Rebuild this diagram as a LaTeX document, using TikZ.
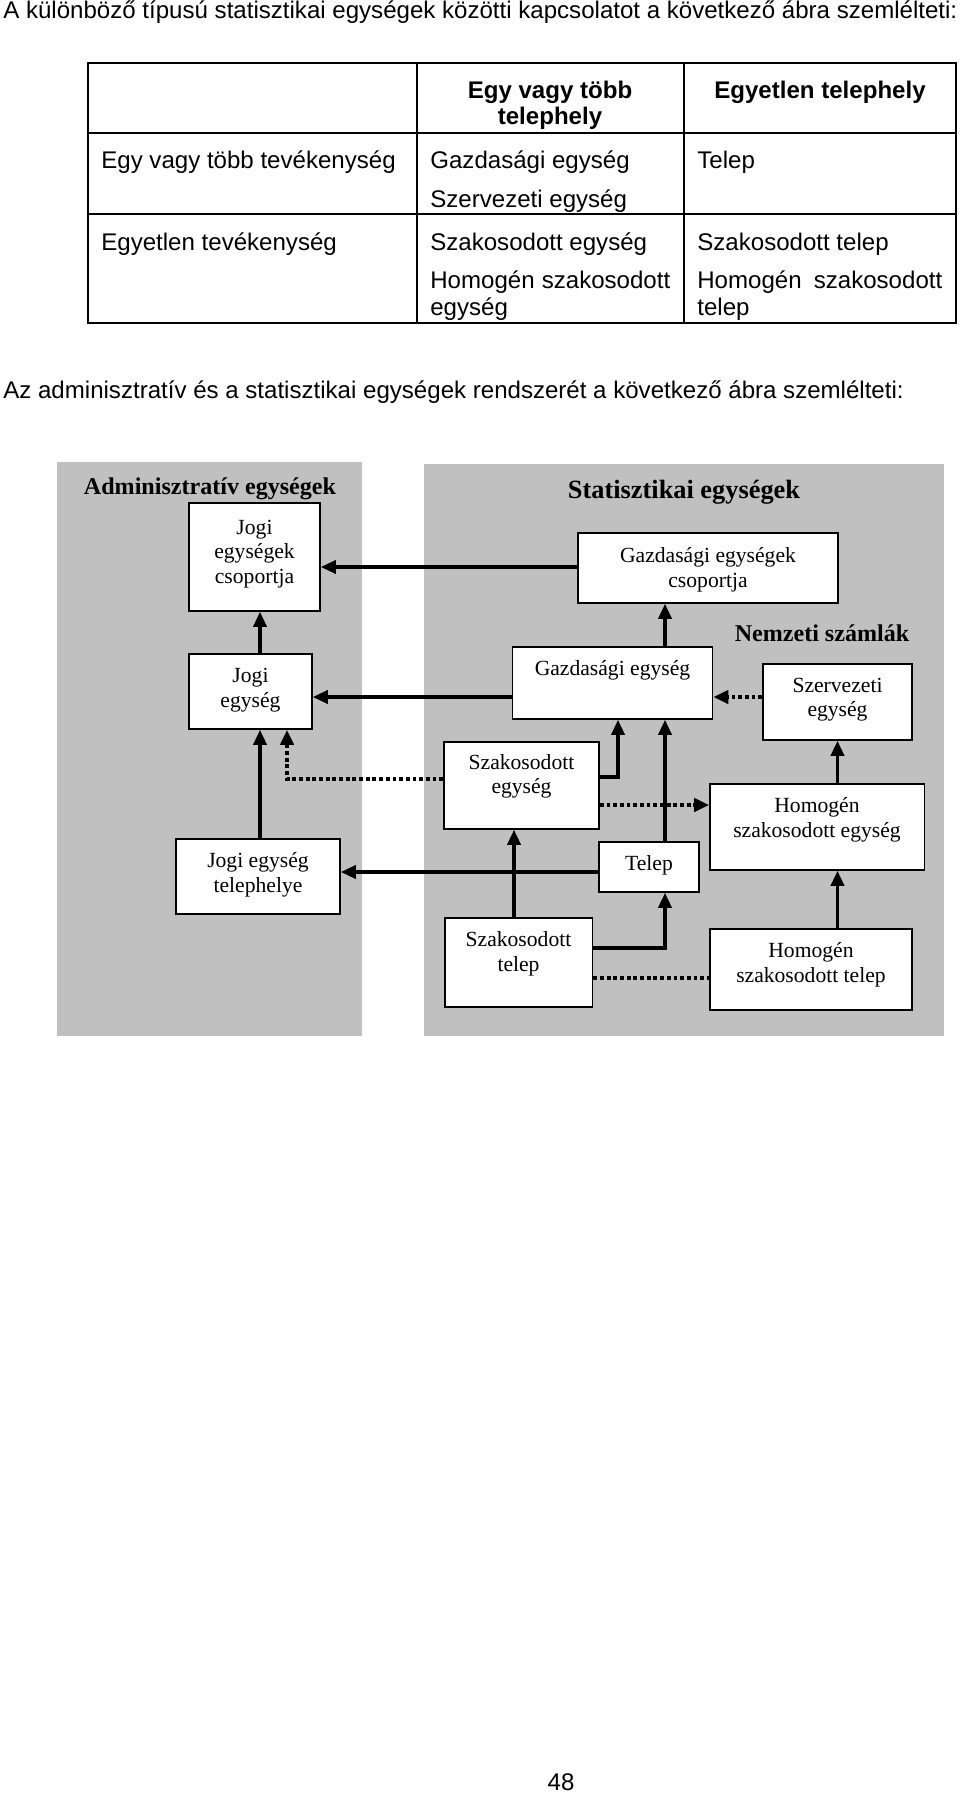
\documentclass[tikz,border=0pt]{standalone}
\usepackage{fontspec}
\setmainfont{Liberation Serif}
\setsansfont{Liberation Sans}
\usetikzlibrary{arrows.meta,fit}
\definecolor{panelgray}{RGB}{192,192,192}

\begin{document}
\begin{tikzpicture}
	[x=0.02cm,y=-0.02cm,
	 sans/.style={font=\sffamily\fontsize{13.7}{15.5}\selectfont,inner sep=0pt,anchor=base west},
	 colhead/.style={font=\sffamily\bfseries\fontsize{13.7}{15}\selectfont,inner sep=0pt,anchor=base},
	 panelhead/.style={font=\bfseries\fontsize{13.7}{16}\selectfont,inner sep=0pt},
	 frame/.style={draw,line width=1pt,fill=white,inner sep=0pt},
	 txt/.style={font=\fontsize{12.3}{14}\selectfont,align=center,inner sep=0pt},
	 arr/.style={line width=1.8pt,-{Triangle[length=8.5pt,width=7.5pt]}},
	 dotarr/.style={line width=2pt,dash pattern=on 2.2pt off 1.6pt,-{Triangle[length=8.5pt,width=7.5pt]}},
	 dotline/.style={line width=2pt,dash pattern=on 2.2pt off 1.6pt}]
\useasboundingbox (0,0) rectangle (960,1795);
% the table
\node[sans] (intro) at (3,18) {A különböző típusú statisztikai egységek közötti kapcsolatot a következő ábra szemlélteti:};
\draw[line width=1.1pt] (88,63) rectangle (956,323)
(417,63) -- (417,323) (684,63) -- (684,323)
(88,133) -- (956,133) (88,214) -- (956,214);
\node[colhead] (h1) at (550,98) {Egy vagy több};
\node[colhead] (h1b) at (550,124) {telephely};
\node[colhead] (h2) at (820,98) {Egyetlen telephely};
\node[sans] (r1) at (101,168) {Egy vagy több tevékenység};
\node[sans] (r1a) at (430,168) {Gazdasági egység};
\node[sans] (r1b) at (430,207) {Szervezeti egység};
\node[sans] (r1c) at (697,168) {Telep};
\node[sans] (r2) at (101,250) {Egyetlen tevékenység};
\node[sans] (r2a) at (430,250) {Szakosodott egység};
\node[sans] (r2b) at (430,288) {\makebox[4.8cm][s]{Homogén szakosodott}};
\node[sans] (r2bb) at (430,315.5) {egység};
\node[sans] (r2c) at (697,250) {Szakosodott telep};
\node[sans] (r2d) at (697,288) {\makebox[4.9cm][s]{Homogén szakosodott}};
\node[sans] (r2dd) at (697,315.5) {telep};
\node[sans] (intro2) at (3,398) {Az adminisztratív és a statisztikai egységek rendszerét a következő ábra szemlélteti:};
% the two panels
\fill[panelgray] (57,462) rectangle (362,1036);
\fill[panelgray] (424,464) rectangle (943.5,1036);
\node[panelhead] (adm) at (210,489) {Adminisztratív egységek};
\node[panelhead,font=\bfseries\fontsize{15}{17}\selectfont] (stat) at (684,492) {Statisztikai egységek};
\node[panelhead] (nsz) at (822,633) {Nemzeti számlák};
% boxes
\node[frame,fit={(189,503) (320,611)}] (jcs) {};
\node[txt] (jcs-t) at (254.5,554) {Jogi\\egységek\\csoportja};
\node[frame,fit={(578,533) (838,603)}] (gcs) {};
\node[txt] (gcs-t) at (708,569.5) {Gazdasági egységek\\csoportja};
\node[frame,fit={(189,654) (312,729)}] (je) {};
\node[txt] (je-t) at (250.5,690) {Jogi\\egység};
\node[frame,fit={(512.5,647) (712.5,719)}] (ge) {};
\node[txt] (ge-t) at (612.5,670) {Gazdasági egység};
\node[frame,fit={(763,664) (912,740)}] (sze) {};
\node[txt] (sze-t) at (837.5,699.5) {Szervezeti\\egység};
\node[frame,fit={(444,742) (599,829)}] (szeg) {};
\node[txt] (szeg-t) at (521.5,776.5) {Szakosodott\\egység};
\node[frame,fit={(176,839) (340,914)}] (jet) {};
\node[txt] (jet-t) at (258,875) {Jogi egység\\telephelye};
\node[frame,fit={(599,842) (699,892)}] (telep) {};
\node[txt] (telep-t) at (649,865) {Telep};
\node[frame,fit={(710,784) (924.5,870)}] (hse) {};
\node[txt] (hse-t) at (817,820) {Homogén\\szakosodott egység};
\node[frame,fit={(445,918) (592.5,1007)}] (szt) {};
\node[txt] (szt-t) at (518.5,954) {Szakosodott\\telep};
\node[frame,fit={(710,929) (912,1010)}] (hst) {};
\node[txt] (hst-t) at (811,964.5) {Homogén\\szakosodott telep};
% connectors
\draw[arr] (gcs.west |- 0,567) -- (jcs.east |- 0,567);
\draw[arr] (je.north -| 260,0) -- (jcs.south -| 260,0);
\draw[arr] (ge.west |- 0,697) -- (je.east |- 0,697);
\draw[arr] (ge.north -| 665,0) -- (gcs.south -| 665,0);
\draw[dotarr] (sze.west |- 0,697) -- (ge.east |- 0,697);
\draw[arr] (jet.north -| 260,0) -- (je.south -| 260,0);
\draw[dotarr] (szeg.west |- 0,779) -| (je.south -| 287,0);
\draw[arr] (szeg.east |- 0,777) -| (ge.south -| 618,0);
\draw[arr] (telep.north -| 665,0) -- (ge.south -| 665,0);
\draw[dotarr] (szeg.east |- 0,805) -- (hse.west |- 0,805);
\draw[arr] (telep.west |- 0,872) -- (jet.east |- 0,872);
\draw[arr] (szt.north -| 514,0) -- (szeg.south -| 514,0);
\draw[arr] (szt.east |- 0,948) -| (telep.south -| 665,0);
\draw[dotline] (szt.east |- 0,978) -- (hst.west |- 0,978);
\draw[arr] (hst.north -| sze.south) -- (hse.south -| sze.south);
\draw[arr] (hse.north -| sze.south) -- (sze.south);
\node[sans,anchor=center] (page) at (561,1782) {48};
\end{tikzpicture}
\end{document}
